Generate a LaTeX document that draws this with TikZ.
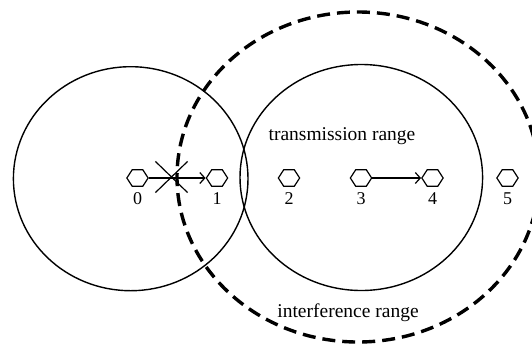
\documentclass[tikz,border=0pt]{standalone}
\usepackage{fontspec}
\setmainfont{Liberation Serif}
\usetikzlibrary{shapes.geometric,shapes.misc,arrows.meta}
\tikzset{
  hexnode/.style={draw, line width=1.2pt, regular polygon, regular polygon sides=6,
    minimum size=19pt, inner sep=0pt, xscale=1.12, transform shape},
  numlabel/.style={font=\fontsize{18}{18}\selectfont, inner sep=0pt},
  rangelabel/.style={font=\fontsize{19.5}{20}\selectfont, inner sep=0pt, anchor=base},
  link/.style={line width=1.2pt, -{Straight Barb[length=5pt,width=11pt,line width=1.2pt]}},
  txrange/.style={line width=1.4pt},
  ifrange/.style={line width=3.4pt, dash pattern=on 13pt off 7pt},
  blockmark/.style={draw, cross out, line width=1.2pt, minimum width=31pt, minimum height=30pt, inner sep=0pt}
}
\begin{document}
\begin{tikzpicture}[x=1pt,y=-1pt]
\useasboundingbox (0,0) rectangle (532,346);
% ranges
\draw[txrange] (130.7,178.7) ellipse [x radius=117.3pt, y radius=112pt];
\draw[txrange] (361.3,177.5) ellipse [x radius=121.3pt, y radius=113pt];
\draw[ifrange] (358,177) ellipse [x radius=181pt, y radius=165pt];
% nodes
\node[hexnode] (n0) at (137.5,178) {};
\node[hexnode] (n1) at (217,178) {};
\node[hexnode] (n2) at (289,178) {};
\node[hexnode] (n3) at (361,178) {};
\node[hexnode] (n4) at (432.5,178) {};
\node[hexnode] (n5) at (507.5,178) {};
\node[numlabel] (l0) at (137.5,199) {0};
\node[numlabel] (l1) at (217,199) {1};
\node[numlabel] (l2) at (289,199) {2};
\node[numlabel] (l3) at (361,199) {3};
\node[numlabel] (l4) at (432.5,199) {4};
\node[numlabel] (l5) at (507.5,199) {5};
% links
\draw[link] (n0) -- (n1);
\draw[link] (n3) -- (n4);
\node[blockmark] (x) at (171.5,177) {};
% labels
\node[rangelabel] (tr) at (342,140) {transmission range};
\node[rangelabel] (ir) at (348,317) {interference range};
\end{tikzpicture}
\end{document}
